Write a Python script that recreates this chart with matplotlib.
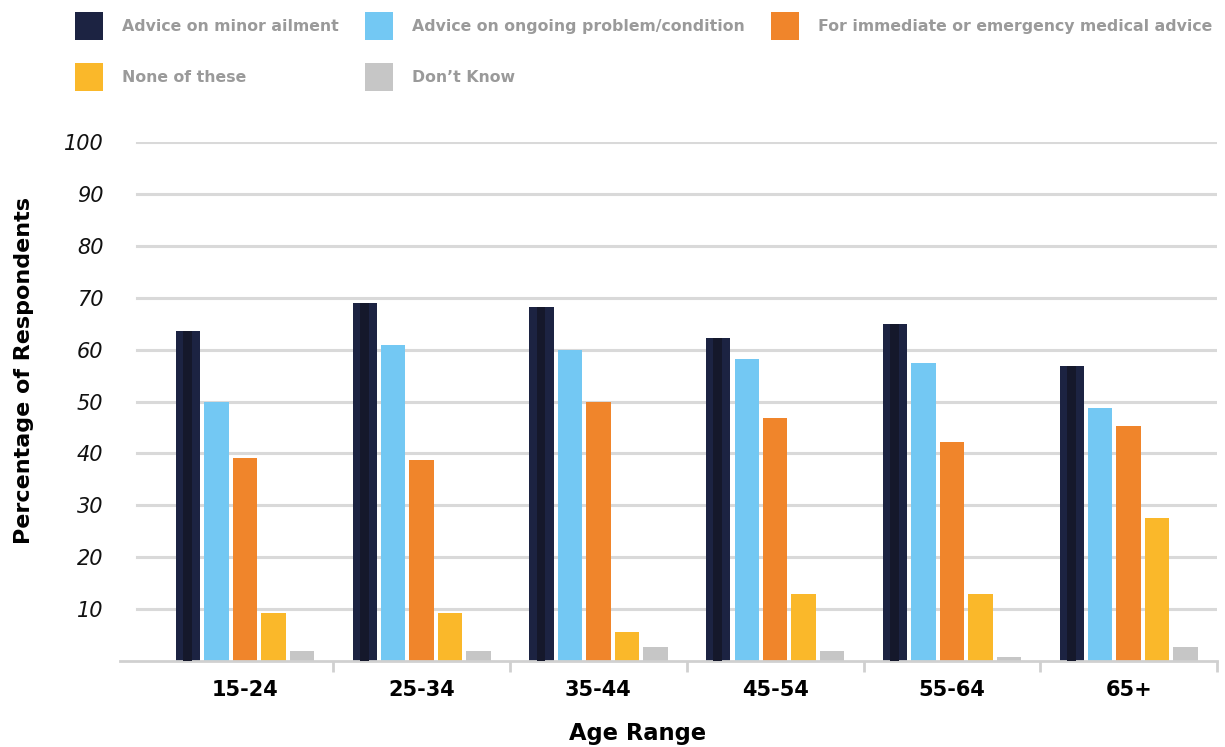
import matplotlib
matplotlib.use('Agg')
import matplotlib.pyplot as plt
import numpy as np
from matplotlib.patches import Patch

# 数据
age_groups = ['15-24', '25-34', '35-44', '45-54', '55-64', '65+']
series_names = ['Advice on minor ailment', 'Advice on ongoing problem/condition',
                'For immediate or emergency medical advice', 'None of these', 'Don\u2019t Know']
minor_ailment = [63.5, 69, 68.3, 62.3, 65, 56.8]
ongoing_problem = [50, 60.8, 60, 58.2, 57.5, 48.7]
emergency = [39.2, 38.7, 50, 46.8, 42.2, 45.2]
none_of_these = [9.2, 9.2, 5.5, 13, 13, 27.5]
dont_know = [1.9, 1.9, 2.7, 1.9, 0.8, 2.7]
y_ticks = [10, 20, 30, 40, 50, 60, 70, 80, 90, 100]

colors = ['#1c2342', '#73c8f3', '#f0852b', '#fab82a', '#c6c6c6']
grid_c = '#d9d9d9'

fig = plt.figure(figsize=(12.25, 7.47), dpi=100)
W, H = 1225, 747
ax = fig.add_axes([120 / W, 86 / H, 1097 / W, 519 / H])

x = np.arange(len(age_groups))
pitch = 0.161
width = 0.138
all_series = [minor_ailment, ongoing_problem, emergency, none_of_these, dont_know]

for yt in y_ticks:
    ax.axhline(yt, xmin=0.0155, xmax=1, color=grid_c, lw=2.2, zorder=0)

for i, vals in enumerate(all_series):
    pos = x + (i - 2) * pitch
    ax.bar(pos, vals, width=width, color=colors[i], zorder=2)
    if i == 0:
        # darker stripe in the middle of the navy bars
        ax.bar(pos - 0.003, vals, width=width * 0.36, color='#15182b', zorder=3)

ax.set_xlim(-0.707, 5.5)
ax.set_ylim(0, 100)

for s in ['top', 'right', 'left']:
    ax.spines[s].set_visible(False)
ax.spines['bottom'].set_color('#d0d0d0')
ax.spines['bottom'].set_linewidth(2)

ax.set_xticks(x)
ax.set_xticklabels(age_groups, fontsize=15, fontweight='bold', color='black')
ax.set_xticks(list(x + 0.5), minor=True)
ax.tick_params(axis='x', which='major', length=0, pad=14)
ax.tick_params(axis='x', which='minor', length=8, width=2, color='#d0d0d0')

ax.set_yticks(y_ticks)
ax.set_yticklabels([str(v) for v in y_ticks], fontsize=15, fontstyle='italic', color='#111111')
ax.tick_params(axis='y', length=0, pad=12)

ax.set_ylabel('Percentage of Respondents', fontsize=16, fontweight='bold', color='black')
ax.yaxis.set_label_coords(-0.078, 0.56)
ax.set_xlabel('Age Range', fontsize=16.3, fontweight='bold', color='black')
ax.xaxis.set_label_coords(0.472, -0.118)

# legend (column-major order so the rows read like the original)
order = [0, 3, 1, 4, 2]
handles = [Patch(facecolor=colors[k], edgecolor='none', label=series_names[k]) for k in order]
leg = fig.legend(handles=handles, ncol=3, loc='upper left', bbox_to_anchor=(75 / W, 1 - 12 / H),
                 frameon=False, fontsize=11.3, handlelength=1.77, handleheight=2.32,
                 handletextpad=1.25, columnspacing=1.65, labelspacing=1.5,
                 borderaxespad=0, borderpad=0)
for t in leg.get_texts():
    t.set_color('#9a9a9a')
    t.set_fontweight('bold')

fig.savefig('out.png', dpi=100)
